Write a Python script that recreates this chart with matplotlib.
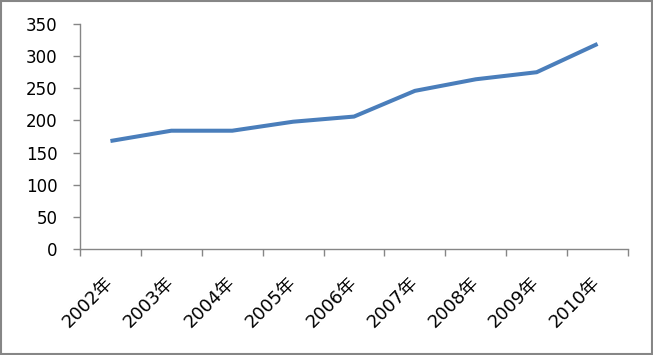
import numpy as np
import matplotlib.pyplot as plt
from matplotlib.patches import Rectangle

plt.rcParams['font.family'] = ['DejaVu Sans', 'Noto Sans CJK SC']

# 数据
years = ["2002年", "2003年", "2004年", "2005年", "2006年",
         "2007年", "2008年", "2009年", "2010年"]
values = [168, 184, 184, 198, 206, 246, 264, 275, 319]
yticks = [0, 50, 100, 150, 200, 250, 300, 350]

axis_gray = "#868686"
line_blue = "#4A7EBB"

fig = plt.figure(figsize=(6.53, 3.55), dpi=100)
ax = fig.add_axes([80 / 653, 1 - 249 / 355, 548 / 653, 225 / 355])

x = np.arange(len(years))
ax.plot(x, values, color=line_blue, linewidth=2.9, solid_capstyle="butt")

ax.set_xlim(-0.5, len(years) - 0.5)
ax.set_ylim(0, 350)
ax.set_yticks(yticks)

# 类别刻度线在类别之间
ax.set_xticks(x)
ax.set_xticklabels(years, rotation=45, ha="right", va="center",
                   rotation_mode="anchor", fontsize=13)
ax.set_xticks(np.arange(len(years) + 1) - 0.5, minor=True)
ax.tick_params(axis="x", which="major", length=0, pad=22)
ax.tick_params(axis="x", which="minor", length=5, color=axis_gray, width=1)
ax.tick_params(axis="y", length=5, color=axis_gray, width=1, labelsize=12, pad=11)

for side in ["top", "right"]:
    ax.spines[side].set_visible(False)
for side in ["left", "bottom"]:
    ax.spines[side].set_color(axis_gray)
    ax.spines[side].set_linewidth(1)

# 外框
fig.patches.append(Rectangle((0.002, 0.003), 0.996, 0.994, transform=fig.transFigure,
                             fill=False, edgecolor=axis_gray, linewidth=1.5))

fig.savefig("out.png", dpi=100)
